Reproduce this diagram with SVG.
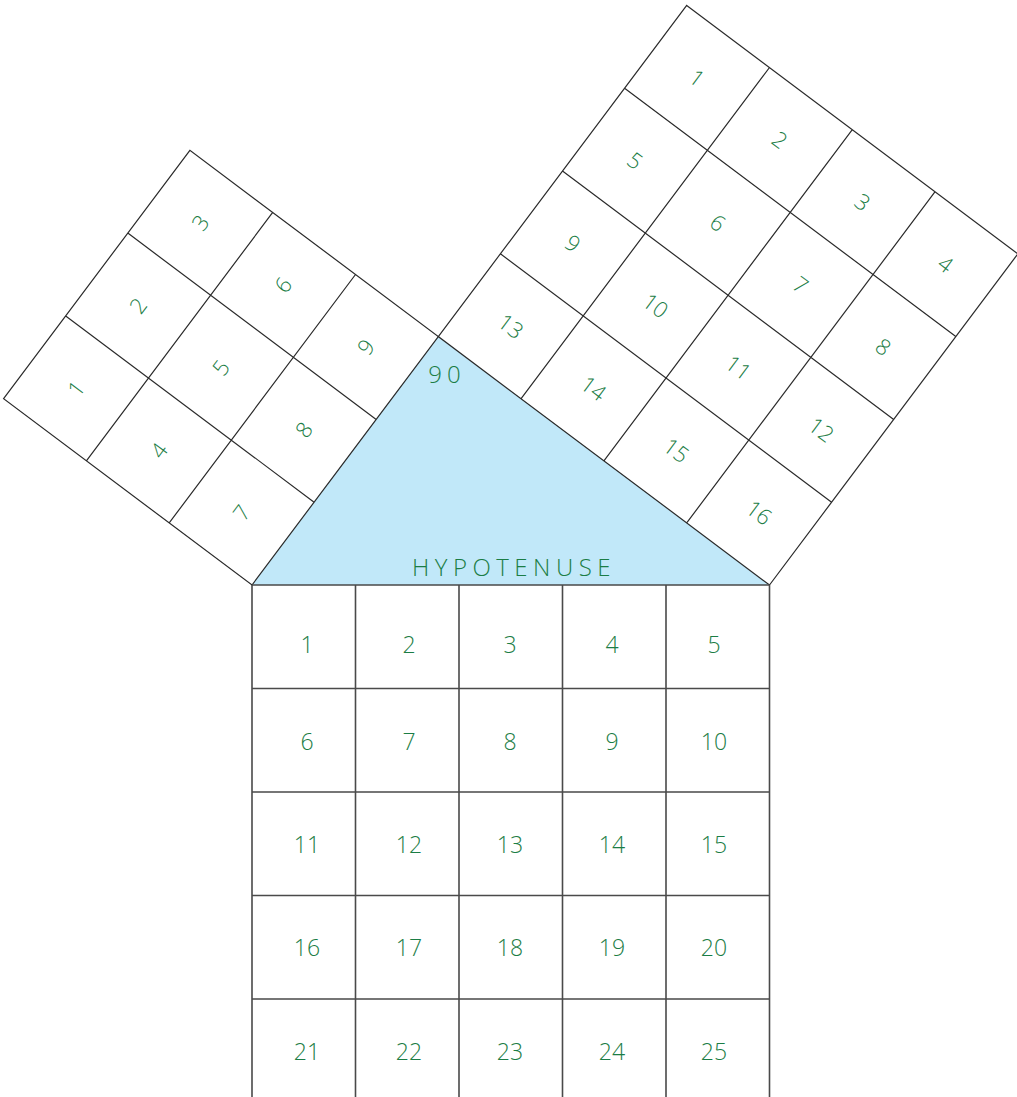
<svg xmlns="http://www.w3.org/2000/svg" width="1017" height="1097" viewBox="0 0 1017 1097">
<style>
.grid{fill:none;stroke:#2a2a2a;stroke-width:1.2}
.bgrid{fill:none;stroke:#4a4a4a;stroke-width:1.6}
.num{font-family:"Open Sans","Liberation Sans",sans-serif;font-weight:350;font-size:22px;fill:#1b7d45;text-anchor:middle}
.bnum{font-size:23px}
.lbl{font-family:"Open Sans","Liberation Sans",sans-serif;font-weight:350;font-size:24px;fill:#1b7d45;text-anchor:middle}
</style>
<rect width="1017" height="1097" fill="#ffffff"/>
<g id="triangle">
<polygon points="252,585 769.5,585 438.3,336.6" fill="#c1e8f9"/>
<text class="lbl" x="447" y="383" letter-spacing="5">90</text>
<text class="lbl" x="514" y="576" letter-spacing="5.5">HYPOTENUSE</text>
</g>
<g id="left-square" transform="translate(252,585) rotate(-53.1301)">
<path class="grid" d="M0,-310.5H310.5V0H0Z M103.5,-310.5V0 M207,-310.5V0 M0,-207H310.5 M0,-103.5H310.5"/>
<text class="num" x="51.75" y="-250.75">1</text>
<text class="num" x="155.25" y="-250.75">2</text>
<text class="num" x="258.75" y="-250.75">3</text>
<text class="num" x="51.75" y="-147.25">4</text>
<text class="num" x="155.25" y="-147.25">5</text>
<text class="num" x="258.75" y="-147.25">6</text>
<text class="num" x="51.75" y="-43.75">7</text>
<text class="num" x="155.25" y="-43.75">8</text>
<text class="num" x="258.75" y="-43.75">9</text>
</g>
<g id="right-square" transform="translate(438.3,336.6) rotate(36.8699)">
<path class="grid" d="M0,-414H414V0H0Z M103.5,-414V0 M207,-414V0 M310.5,-414V0 M0,-310.5H414 M0,-207H414 M0,-103.5H414"/>
<text class="num" x="51.75" y="-354.25">1</text>
<text class="num" x="155.25" y="-354.25">2</text>
<text class="num" x="258.75" y="-354.25">3</text>
<text class="num" x="362.25" y="-354.25">4</text>
<text class="num" x="51.75" y="-250.75">5</text>
<text class="num" x="155.25" y="-250.75">6</text>
<text class="num" x="258.75" y="-250.75">7</text>
<text class="num" x="362.25" y="-250.75">8</text>
<text class="num" x="51.75" y="-147.25">9</text>
<text class="num" x="155.25" y="-147.25">10</text>
<text class="num" x="258.75" y="-147.25">11</text>
<text class="num" x="362.25" y="-147.25">12</text>
<text class="num" x="51.75" y="-43.75">13</text>
<text class="num" x="155.25" y="-43.75">14</text>
<text class="num" x="258.75" y="-43.75">15</text>
<text class="num" x="362.25" y="-43.75">16</text>
</g>
<g id="bottom-square">
<path class="bgrid" d="M252,585H769.5 M252,688.5H769.5 M252,792H769.5 M252,895.5H769.5 M252,999H769.5 M252,585V1100 M355.5,585V1100 M459,585V1100 M562.5,585V1100 M666,585V1100 M769.5,585V1100"/>
<g class="num bnum">
<text x="307" y="653">1</text><text x="409" y="653">2</text><text x="510" y="653">3</text><text x="612" y="653">4</text><text x="714" y="653">5</text>
<text x="307" y="750">6</text><text x="409" y="750">7</text><text x="510" y="750">8</text><text x="612" y="750">9</text><text x="714" y="750">10</text>
<text x="307" y="853">11</text><text x="409" y="853">12</text><text x="510" y="853">13</text><text x="612" y="853">14</text><text x="714" y="853">15</text>
<text x="307" y="956">16</text><text x="409" y="956">17</text><text x="510" y="956">18</text><text x="612" y="956">19</text><text x="714" y="956">20</text>
<text x="307" y="1060">21</text><text x="409" y="1060">22</text><text x="510" y="1060">23</text><text x="612" y="1060">24</text><text x="714" y="1060">25</text>
</g>
</g>
</svg>
